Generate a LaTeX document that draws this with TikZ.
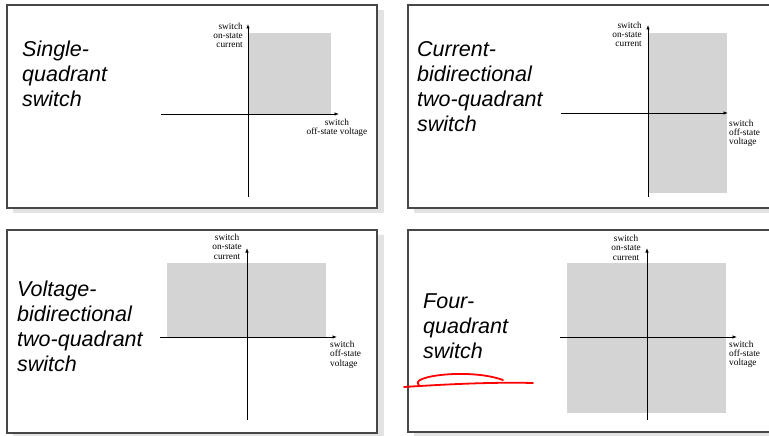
\documentclass[tikz,border=0pt]{standalone}
\usepackage{fontspec}
\setmainfont{Liberation Serif}
\newfontfamily\titlefont{Liberation Sans}
\usetikzlibrary{arrows.meta}
\begin{document}
\begin{tikzpicture}[x=1pt,y=-1pt,
 panel/.style={draw=black!72, line width=1.3pt, fill=white},
 shadowbox/.style={fill=black!11, draw=none},
 region/.style={fill=black!17, draw=none},
 axis/.style={line width=0.8pt, -{Latex[length=4.5pt,width=3.5pt]}},
 title/.style={font=\titlefont\itshape\fontsize{21.5}{25}\selectfont, align=left, anchor=north west, inner sep=0pt},
 lbl/.style={font=\fontsize{9.3}{9.3}\selectfont, inner sep=0pt},
 scribble/.style={draw=red, line width=1.8pt, line cap=round}]
\useasboundingbox (0,0) rectangle (769,436);
\clip (0,0) rectangle (769,436);
% shadows
\fill[shadowbox] (13,10) rectangle (384,213);
\fill[shadowbox] (414,10) rectangle (780,213);
\fill[shadowbox] (13,235) rectangle (384,438);
\fill[shadowbox] (414,235) rectangle (780,438);
% panels
\draw[panel] (7,5) rectangle (377,208);
\draw[panel] (408,5) rectangle (775,208);
\draw[panel] (7,230) rectangle (377,433);
\draw[panel] (408,230) rectangle (775,432);

% ---- Panel 1: single quadrant
\fill[region] (248,33) rectangle (331,114);
\coordinate (a1l) at (161,114); \coordinate (a1r) at (339,114);
\coordinate (a1b) at (248,197); \coordinate (a1t) at (248,24);
\draw[axis] (a1l) -- (a1r);
\draw[axis] (a1b) -- (a1t);
\node[title] (t1) at (22,41) {Single-\\quadrant\\switch};
\node[lbl, align=right, anchor=north east] (i1) at (243,22.5) {switch\\on-state\\current};
\node[lbl, align=center, anchor=north] (v1) at (337,118.5) {switch\\off-state voltage};

% ---- Panel 2: current-bidirectional
\fill[region] (648,33) rectangle (727,193);
\coordinate (a2l) at (561,113); \coordinate (a2r) at (728,113);
\coordinate (a2b) at (648,197); \coordinate (a2t) at (648,25);
\draw[axis] (a2l) -- (a2r);
\draw[axis] (a2b) -- (a2t);
\node[title] (t2) at (417,41) {Current-\\bidirectional\\two-quadrant\\switch};
\node[lbl, align=right, anchor=north east] (i2) at (642,21.5) {switch\\on-state\\current};
\node[lbl, align=left, anchor=north west] (v2) at (729,119.5) {switch\\off-state\\voltage};

% ---- Panel 3: voltage-bidirectional
\fill[region] (167,263) rectangle (326,337);
\coordinate (a3l) at (160,337); \coordinate (a3r) at (337,337);
\coordinate (a3b) at (247,420); \coordinate (a3t) at (247,248);
\draw[axis] (a3l) -- (a3r);
\draw[axis] (a3b) -- (a3t);
\node[title] (t3) at (17,281) {Voltage-\\bidirectional\\two-quadrant\\switch};
\node[lbl, align=center, anchor=north east] (i3) at (242,234) {switch\\on-state\\current};
\node[lbl, align=left, anchor=north west] (v3) at (330,341) {switch\\off-state\\voltage};

% ---- Panel 4: four quadrant
\fill[region] (567,263) rectangle (726,413);
\coordinate (a4l) at (560,337); \coordinate (a4r) at (737,337);
\coordinate (a4b) at (647,420); \coordinate (a4t) at (647,248);
\draw[axis] (a4l) -- (a4r);
\draw[axis] (a4b) -- (a4t);
\node[title] (t4) at (423,294) {Four-\\quadrant\\switch};
\node[lbl, align=center, anchor=north east] (i4) at (641,235) {switch\\on-state\\current};
\node[lbl, align=left, anchor=north west] (v4) at (729,340.5) {switch\\off-state\\voltage};

% red hand-drawn underline
\coordinate (r0) at (404,387);
\coordinate (r1) at (533,383);
\coordinate (r2) at (419,385);
\coordinate (r3) at (503,380);
\draw[scribble] (r0) .. controls (450,384) and (495,382) .. (r1);
\draw[scribble] (r2) .. controls (408,376) and (470,368) .. (r3);
\end{tikzpicture}
\end{document}
